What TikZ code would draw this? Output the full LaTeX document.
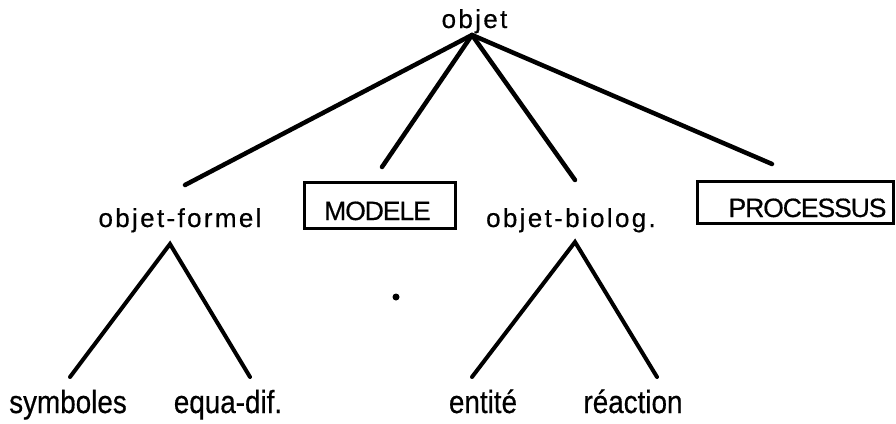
\documentclass[tikz,border=0pt]{standalone}
\usepackage{fontspec}
\setmainfont[FakeBold=0.5]{Liberation Sans}
\newfontfamily\spacedfont[LetterSpace=9,FakeBold=0.5]{Liberation Sans}
\newfontfamily\tightfont[LetterSpace=-4,FakeBold=0.5]{Liberation Sans}
\newfontfamily\narrowfont[FakeStretch=0.87,FakeBold=0.5]{Liberation Sans}
\begin{document}
\begin{tikzpicture}[x=1pt,y=-1pt,
  conn/.style={line width=4.5pt, line cap=round},
  leg/.style={line width=4pt, line cap=round},
  spaced/.style={font=\spacedfont\fontsize{26}{30}\selectfont, inner sep=0pt, anchor=base},
  leaf/.style={font=\narrowfont\fontsize{32}{36}\selectfont, inner sep=0pt, anchor=base},
  boxlabel/.style={font=\tightfont\fontsize{26.5}{30}\selectfont, inner sep=0pt, anchor=base},
  frame/.style={draw, line width=3pt, inner sep=0pt}]
\useasboundingbox (0,0) rectangle (896,423);

% labels
\node[spaced] (objet) at (474.5,28) {objet};
\node[spaced] (formel) at (180,227) {objet-formel};
\node[spaced] (biolog) at (571,227) {objet-biolog.};
\node[frame, minimum width=151pt, minimum height=46pt] (modbox) at (379.5,205) {};
\node[boxlabel] (modele) at (377.5,220) {MODELE};
\node[frame, minimum width=196pt, minimum height=42pt] (probox) at (795,202) {};
\node[boxlabel] (processus) at (807.5,217) {PROCESSUS};
\node[leaf] (symboles) at (68,413) {symboles};
\node[leaf] (equadif) at (228,413) {equa-dif.};
\node[leaf] (entite) at (483,413) {entité};
\node[leaf] (reaction) at (633,413) {réaction};

% connector points
\coordinate (top) at (472,35);
\coordinate (eformel) at (185,185);
\coordinate (emodele) at (382,167);
\coordinate (ebiolog) at (575,180);
\coordinate (eprocessus) at (772,164);
\coordinate (fapex) at (170,244);
\coordinate (fleft) at (70,377);
\coordinate (fright) at (250,377);
\coordinate (bapex) at (575,242);
\coordinate (bleft) at (472,377);
\coordinate (bright) at (657,377);

\draw[conn] (top) -- (eformel);
\draw[conn] (top) -- (emodele);
\draw[conn] (top) -- (ebiolog);
\draw[conn] (top) -- (eprocessus);
\draw[leg] (fleft) -- (fapex) -- (fright);
\draw[leg] (bleft) -- (bapex) -- (bright);

\fill (396,297) circle (3.5pt);
\end{tikzpicture}
\end{document}
